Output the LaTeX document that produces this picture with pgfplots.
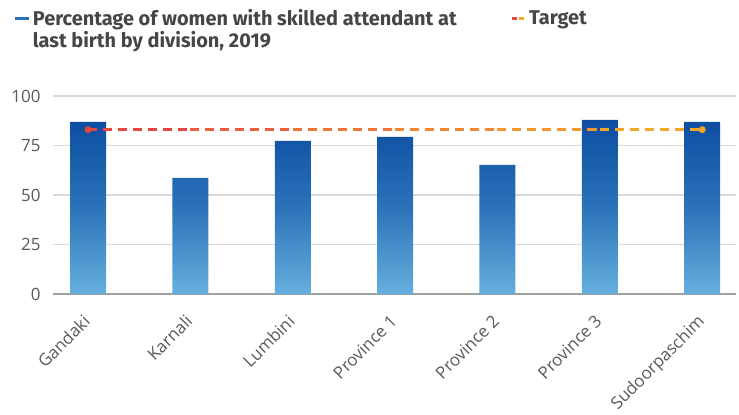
\documentclass[border=0pt]{standalone}
\usepackage{fontspec}
\setmainfont{Open Sans}
\newfontfamily\legfont{Fira Sans}
\usepackage{pgfplots}
\pgfplotsset{compat=1.18}
\definecolor{barTop}{RGB}{13,77,161}
\definecolor{barMid}{RGB}{43,114,185}
\definecolor{barBot}{RGB}{102,175,221}
\definecolor{legtext}{RGB}{70,70,70}
\definecolor{tickgray}{RGB}{89,89,89}
\definecolor{gridgray}{RGB}{217,217,217}
\definecolor{axisgray}{RGB}{160,160,160}
\definecolor{tgtA}{RGB}{232,70,64}
\definecolor{tgtB}{RGB}{236,95,60}
\definecolor{tgtC}{RGB}{240,118,56}
\definecolor{tgtD}{RGB}{242,135,52}
\definecolor{tgtE}{RGB}{244,150,46}
\definecolor{tgtF}{RGB}{245,165,40}
\begin{document}
\begin{tikzpicture}[x=1bp,y=1bp]
\begin{axis}[
  at={(53bp,120bp)}, anchor=south west,
  scale only axis, width=683bp, height=198bp,
  xmin=-0.342, xmax=6.33, ymin=0, ymax=100,
  ytick={0,25,50,75,100},
  xtick={0,1,2,3,4,5,6},
  xticklabels={Gandaki,Karnali,Lumbini,Province 1,Province 2,Province 3,Sudoorpaschim},
  axis x line*=bottom, axis y line*=left,
  x axis line style={draw=axisgray, line width=1.6bp, -},
  y axis line style={draw=none},
  major tick length=0pt,
  ymajorgrids, grid style={draw=gridgray, line width=1.2bp},
  /pgf/number format/assume math mode=true,
  yticklabel style={font=\fontsize{17}{20}\selectfont, text=tickgray, xshift=-9bp},
  xticklabel style={font=\fontsize{17}{20}\selectfont, text=tickgray, inner sep=1bp, xshift=-6bp, yshift=-18bp, rotate=45, anchor=north east},
  clip=false,
  tseg/.style={line width=2.5bp, dash pattern=on 9bp off 6bp, forget plot},
]
\addplot[ybar, bar width=36bp, draw=none, top color=barTop, bottom color=barBot, middle color=barMid] coordinates {
  (0,86.9) (1,58.6) (2,77.3) (3,79.3) (4,65.2) (5,87.9) (6,86.9)
};
\addplot[tseg, color=tgtA] coordinates {(0,83) (1,83)};
\addplot[tseg, color=tgtB] coordinates {(1,83) (2,83)};
\addplot[tseg, color=tgtC] coordinates {(2,83) (3,83)};
\addplot[tseg, color=tgtD] coordinates {(3,83) (4,83)};
\addplot[tseg, color=tgtE] coordinates {(4,83) (5,83)};
\addplot[tseg, color=tgtF] coordinates {(5,83) (6,83)};
\addplot[only marks, mark=*, mark size=3.2bp, color=tgtA] coordinates {(0,83)};
\addplot[only marks, mark=*, mark size=3.2bp, color=tgtF] coordinates {(6,83)};
\end{axis}
% legend
\draw[line width=3bp, color=barMid] (15,395) -- (29,395);
\node[anchor=base west, inner sep=0pt, text=legtext, font=\legfont\bfseries\fontsize{20}{22}\selectfont] at (32.7,388) {Percentage of women with skilled attendant at};
\node[anchor=base west, inner sep=0pt, text=legtext, font=\legfont\bfseries\fontsize{20}{22}\selectfont] at (32.7,367) {last birth by division, 2019};
\draw[line width=3bp, color=tgtA] (512,395) -- (517,395);
\draw[line width=3bp, color=tgtF] (519,395) -- (524,395);
\node[anchor=base west, inner sep=0pt, text=legtext, font=\legfont\bfseries\fontsize{20}{22}\selectfont] at (529,389) {Target};
\pgfresetboundingbox
\useasboundingbox (0,0) rectangle (739,414);
\end{tikzpicture}
\end{document}
